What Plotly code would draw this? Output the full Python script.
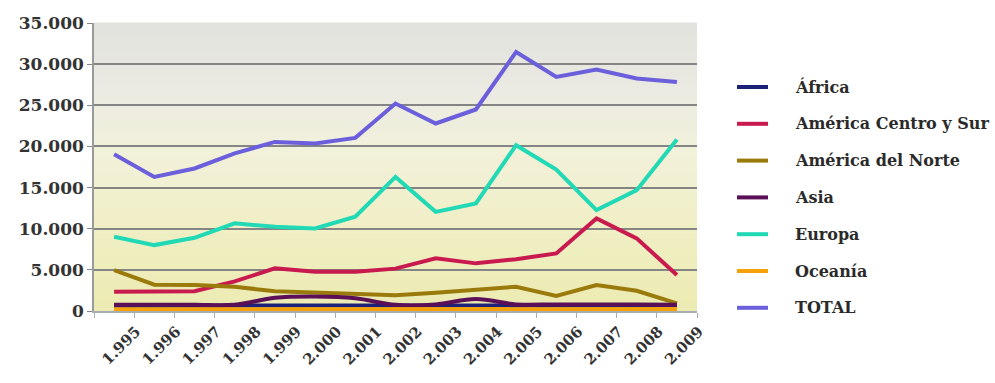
import plotly.graph_objects as go

years = ["1.995", "1.996", "1.997", "1.998", "1.999", "2.000", "2.001", "2.002",
         "2.003", "2.004", "2.005", "2.006", "2.007", "2.008", "2.009"]

africa = [650, 650, 650, 680, 700, 700, 700, 700, 700, 700, 720, 720, 720, 700, 680]
america_cs = [2340, 2340, 2400, 3600, 5180, 4770, 4770, 5150, 6400, 5790, 6300, 7000, 11250, 8830, 4370]
america_n = [4980, 3200, 3150, 2950, 2400, 2250, 2100, 1900, 2220, 2550, 2950, 1820, 3160, 2460, 930]
asia = [750, 750, 750, 750, 1600, 1750, 1550, 750, 800, 1450, 800, 800, 800, 800, 750]
europa = [9020, 8010, 8900, 10650, 10240, 10030, 11450, 16300, 12050, 13080, 20150, 17200, 12260, 14690, 20840]
oceania = [200, 200, 200, 200, 200, 200, 210, 210, 220, 220, 230, 230, 240, 240, 240]
total = [19060, 16300, 17320, 19150, 20550, 20360, 21040, 25210, 22790, 24490, 31480, 28440, 29340, 28250, 27840]

y_ticks = [0, 5000, 10000, 15000, 20000, 25000, 30000, 35000]
y_labels = ["0", "5.000", "10.000", "15.000", "20.000", "25.000", "30.000", "35.000"]

series = [
    ("África", africa, "#1c2277", "linear"),
    ("América Centro y Sur", america_cs, "#c81a4e", "linear"),
    ("América del Norte", america_n, "#9b7a0c", "linear"),
    ("Asia", asia, "#5a0f57", "spline"),
    ("Europa", europa, "#22d9b6", "linear"),
    ("Oceanía", oceania, "#f4a10a", "linear"),
    ("TOTAL", total, "#6b5fdb", "linear"),
]

# plot area in pixels (for the hand-placed legend)
L, R, T, B = 94, 697, 23, 311
W, H = R - L, B - T
def px_x(p):
    return (p - L) / W
def px_y(p):
    return (B - p) / H

fig = go.Figure()
for name, vals, col, shape in series:
    fig.add_trace(go.Scatter(
        x=years, y=vals, name=name, mode="lines",
        line=dict(color=col, width=4, shape=shape),
        showlegend=False,
    ))

# background gradient (styling)
stops = [(0.0, (236, 235, 178)), (0.3, (240, 239, 198)), (0.55, (242, 241, 218)),
         (0.75, (235, 235, 226)), (1.0, (226, 226, 222))]
def col_at(t):
    for i in range(len(stops) - 1):
        t0, c0 = stops[i]
        t1, c1 = stops[i + 1]
        if t0 <= t <= t1:
            f = (t - t0) / (t1 - t0)
            return "rgb(%d,%d,%d)" % tuple(round(a + (b - a) * f) for a, b in zip(c0, c1))
    return "rgb(%d,%d,%d)" % stops[-1][1]

n = 48
shapes = []
for i in range(n):
    y0 = i / n
    y1 = (i + 1) / n
    shapes.append(dict(type="rect", xref="x domain", yref="y domain",
                       x0=0, x1=1, y0=y0, y1=y1 + 0.002,
                       fillcolor=col_at((y0 + y1) / 2), line=dict(width=0),
                       layer="below"))

# legend drawn by hand
annotations = []
for i, (name, vals, col, shape) in enumerate(series):
    yc = 87 + i * 36.8
    shapes.append(dict(type="line", xref="paper", yref="paper",
                       x0=px_x(737), x1=px_x(768), y0=px_y(yc), y1=px_y(yc),
                       line=dict(color=col, width=4)))
    annotations.append(dict(xref="paper", yref="paper", x=px_x(793), y=px_y(yc),
                            xanchor="left", yanchor="middle", showarrow=False,
                            text=name,
                            font=dict(family="DejaVu Serif", size=16, color="#2a2a2a",
                                      weight="bold")))

fig.update_layout(
    width=995, height=383,
    margin=dict(l=L, r=995 - R, t=T, b=383 - B),
    paper_bgcolor="white",
    plot_bgcolor="#ecebd0",
    shapes=shapes,
    annotations=annotations,
    showlegend=False,
    xaxis=dict(
        type="category", range=[-0.5, 14.5],
        showgrid=False, showline=True, linecolor="#a7adb3", linewidth=1.5,
        ticks="outside", tickson="boundaries", ticklen=5, tickcolor="#a7adb3",
        tickangle=-45, ticklabelshift=22, ticklabelstandoff=4,
        tickfont=dict(family="DejaVu Serif", size=15, color="#333333", weight="bold"),
    ),
    yaxis=dict(
        range=[0, 35000], tickvals=y_ticks, ticktext=y_labels,
        showgrid=True, gridcolor="#858585", gridwidth=2,
        showline=True, linecolor="#9a9a9a", linewidth=1.5,
        ticks="outside", ticklen=5, tickcolor="#858585",
        zeroline=False,
        tickfont=dict(family="DejaVu Serif", size=17, color="#333333", weight="bold"),
    ),
)

fig.write_html("out.html")
